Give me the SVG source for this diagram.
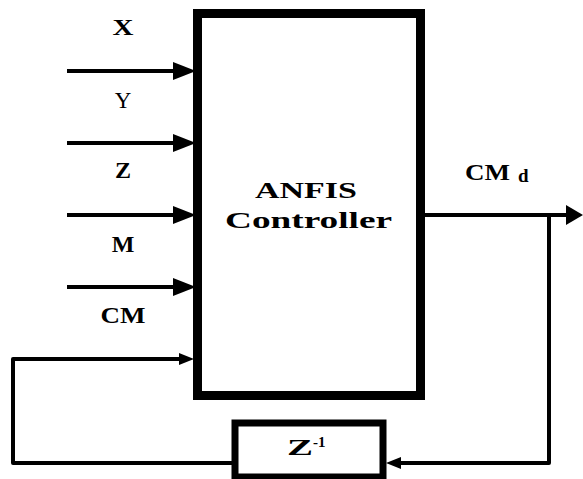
<svg xmlns="http://www.w3.org/2000/svg" width="583" height="479" viewBox="0 0 583 479">
<style>
text{font-family:'Liberation Serif','DejaVu Serif','Times New Roman',serif;font-weight:bold;fill:#000;font-size:24px}
.lbl{text-anchor:middle}
.ln{fill:none;stroke:#000;stroke-width:4;stroke-linejoin:round}
.ah{fill:#000}
</style>
<rect width="583" height="479" fill="#fff"/>
<g id="connectors">
<line class="ln" x1="67" y1="71" x2="178" y2="71"/>
<polygon class="ah" points="173,62 196,71 173,80"/>
<line class="ln" x1="67" y1="143" x2="178" y2="143"/>
<polygon class="ah" points="173,134 196,143 173,152"/>
<line class="ln" x1="67" y1="215" x2="178" y2="215"/>
<polygon class="ah" points="173,206 196,215 173,224"/>
<line class="ln" x1="67" y1="287" x2="178" y2="287"/>
<polygon class="ah" points="173,278 196,287 173,296"/>
<line class="ln" x1="424" y1="215" x2="570" y2="215"/>
<polygon class="ah" points="566,205 583,215 566,225"/>
<polyline class="ln" points="549,215 549,463 398,463"/>
<polygon class="ah" points="401,457 386,463 401,469"/>
<polyline class="ln" points="233,463 13,463 13,359 182,359"/>
<polygon class="ah" points="179,353 194,359 179,365"/>
</g>
<g id="labels">
<text class="lbl" x="123" y="35" textLength="21" lengthAdjust="spacingAndGlyphs">X</text>
<text class="lbl" x="123" y="108" style="font-weight:normal;font-size:23px">Y</text>
<text class="lbl" x="123" y="178">Z</text>
<text class="lbl" x="123" y="252">M</text>
<text class="lbl" x="123" y="323" textLength="45" lengthAdjust="spacingAndGlyphs">CM</text>
<text x="465" y="180" textLength="45" lengthAdjust="spacingAndGlyphs">CM</text>
<text x="518" y="182" style="font-size:19px">d</text>
</g>
<g id="anfis">
<rect x="197.5" y="13.5" width="223" height="382" fill="none" stroke="#000" stroke-width="9"/>
<text x="255" y="198" textLength="102" lengthAdjust="spacingAndGlyphs">ANFIS</text>
<text x="225" y="228" textLength="167" lengthAdjust="spacingAndGlyphs">Controller</text>
</g>
<g id="delay">
<rect x="235" y="423" width="148" height="54" fill="none" stroke="#000" stroke-width="7"/>
<text x="287" y="455" textLength="26" lengthAdjust="spacingAndGlyphs">Z</text>
<text x="313" y="447" style="font-size:15px">-1</text>
</g>
</svg>
